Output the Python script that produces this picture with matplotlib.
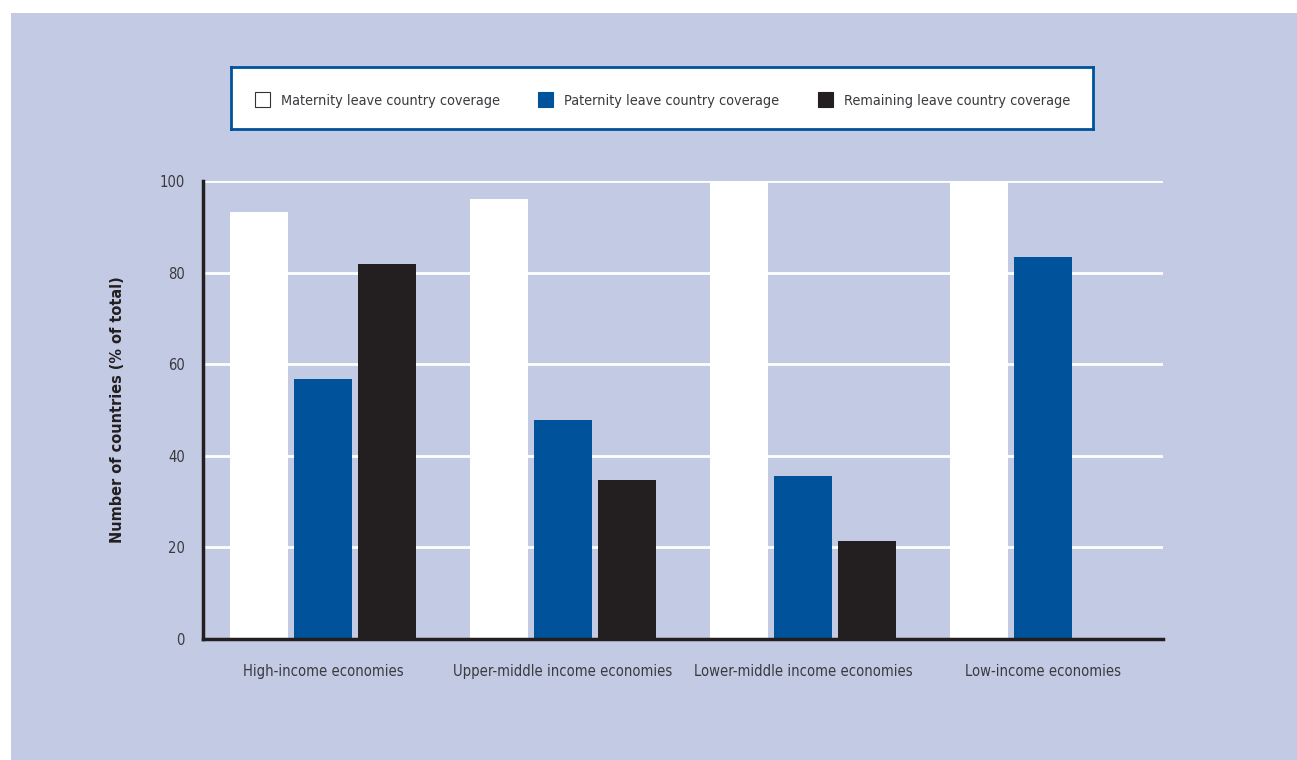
import numpy as np
import matplotlib.pyplot as plt
from matplotlib import font_manager
from matplotlib.patches import Rectangle

# data
categories = ["High-income economies", "Upper-middle income economies",
              "Lower-middle income economies", "Low-income economies"]
maternity = [93.2, 96, 100, 100]
paternity = [56.8, 47.8, 35.6, 83.4]
remaining = [81.9, 34.7, 21.4, 0]
series_names = ["Maternity leave country coverage",
                "Paternity leave country coverage",
                "Remaining leave country coverage"]

bg = "#c3cae4"
blue = "#00529b"
black = "#231f20"
txt = "#3a3a3f"

# narrow font if we have one, else condensed DejaVu
names = {f.name for f in font_manager.fontManager.ttflist}
if 'Liberation Sans Narrow' in names:
    plt.rcParams['font.family'] = ['Liberation Sans Narrow', 'DejaVu Sans']
else:
    plt.rcParams['font.family'] = ['DejaVu Sans']
    plt.rcParams['font.stretch'] = 'condensed'

W, H = 1297, 760
fig = plt.figure(figsize=(W / 100, H / 100), dpi=100)
fig.patch.set_facecolor("white")
# lavender panel (white margin only on top and left)
panel = fig.add_axes([11 / W, 0, 1 - 11 / W, 1 - 13 / H], zorder=-5)
panel.axis("off")
panel.add_patch(Rectangle((0, 0), 1, 1, transform=panel.transAxes,
                          facecolor=bg, edgecolor="none"))

ax = fig.add_axes([203 / W, 1 - 639 / H, 960 / W, 458 / H])
ax.set_facecolor(bg)

x = np.arange(len(categories))
w = 58 / 240
step = 64 / 240
ax.bar(x - step, maternity, w, color="white", zorder=3)
ax.bar(x, paternity, w, color=blue, zorder=3)
ax.bar(x + step, remaining, w, color=black, zorder=3)

ax.set_xlim(-0.5, 3.5)
ax.set_ylim(0, 100)
ax.set_yticks(range(0, 101, 20))
ax.set_xticks(x)
ax.set_xticklabels(categories)
ax.tick_params(length=0, labelsize=10.6, colors=txt)
ax.tick_params(axis='y', pad=13)
ax.tick_params(axis='x', pad=18)
ax.yaxis.grid(True, color="white", linewidth=2, zorder=1)
ax.set_axisbelow(True)
for s in ["top", "right"]:
    ax.spines[s].set_visible(False)
for s in ["left", "bottom"]:
    ax.spines[s].set_color(black)
    ax.spines[s].set_linewidth(2.5)
    ax.spines[s].set_zorder(4)

ax.set_ylabel("Number of countries (% of total)", fontsize=11.6, fontweight="bold",
              color=black, labelpad=25)

# legend box
lg_ax = fig.add_axes([231 / W, 1 - 129 / H, 862 / W, 62 / H])
lg_ax.set_xlim(0, 862)
lg_ax.set_ylim(0, 62)
lg_ax.set_xticks([])
lg_ax.set_yticks([])
lg_ax.set_facecolor("white")
for s in lg_ax.spines.values():
    s.set_color(blue)
    s.set_linewidth(2)
colors = ["white", blue, black]
xs = [24, 307, 587]
for xx, c, name in zip(xs, colors, series_names):
    lg_ax.add_patch(Rectangle((xx, 22), 15, 15, facecolor=c,
                              edgecolor="#333333" if c == "white" else c, linewidth=0.8))
    lg_ax.text(xx + 26, 28.5, name, fontsize=10.4, color=txt, va="center", ha="left")

plt.savefig("out.png", dpi=100)
